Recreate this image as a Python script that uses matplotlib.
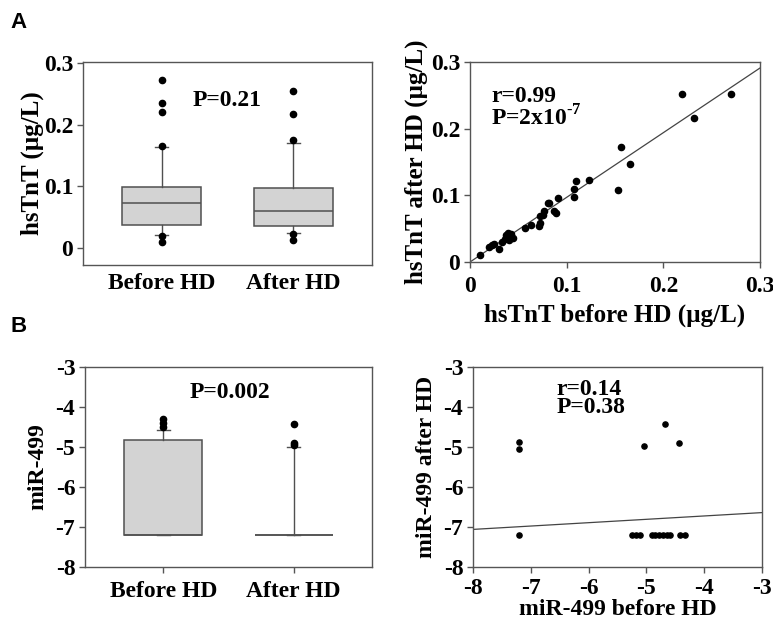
import matplotlib
matplotlib.use("Agg")
import matplotlib.pyplot as plt
import numpy as np

plt.rcParams['font.family'] = ['Liberation Serif', 'DejaVu Serif']
plt.rcParams['font.weight'] = 'bold'
plt.rcParams['mathtext.fontset'] = 'custom'
plt.rcParams['mathtext.rm'] = 'Liberation Serif:bold'
plt.rcParams['mathtext.bf'] = 'Liberation Serif:bold'
plt.rcParams['axes.unicode_minus'] = False

# ---------------- data ----------------
groups = ["Before HD", "After HD"]

# Panel A box plot (hsTnT, ug/L)
hs_med = [0.072, 0.059]
hs_q1 = [0.037, 0.036]
hs_q3 = [0.099, 0.097]
hs_whislo = [0.0205, 0.024]
hs_whishi = [0.164, 0.170]
hs_fliers_before = [0.272, 0.235, 0.221, 0.165, 0.019, 0.0097]
hs_fliers_after = [0.255, 0.218, 0.175, 0.023, 0.012]

# Panel A scatter
hs_before = [0.0105, 0.0195, 0.0226, 0.025, 0.030, 0.033, 0.036, 0.0375, 0.039, 0.041,
             0.0426, 0.044, 0.040, 0.057, 0.0626, 0.071, 0.072, 0.0726, 0.0753, 0.077,
             0.0805, 0.082, 0.0874, 0.089, 0.0908, 0.1075, 0.108, 0.1095, 0.1236, 0.1526,
             0.156, 0.165, 0.2198, 0.232, 0.2705]
hs_after = [0.0105, 0.023, 0.0255, 0.027, 0.0195, 0.030, 0.034, 0.0405, 0.044, 0.038,
            0.042, 0.0355, 0.033, 0.0515, 0.0555, 0.054, 0.058, 0.0695, 0.0705, 0.0765,
            0.088, 0.089, 0.077, 0.074, 0.0955, 0.1095, 0.098, 0.1215, 0.123, 0.1075,
            0.173, 0.147, 0.2525, 0.216, 0.2515]
hs_fit = [0.0, 0.97]  # intercept, slope

# Panel B box plot (miR-499)
mi_med = [-7.2, -7.2]
mi_q1 = [-7.2, -7.2]
mi_q3 = [-4.83, -7.2]
mi_whislo = [-7.2, -7.2]
mi_whishi = [-4.57, -5.0]
mi_fliers_before = [-4.30, -4.40, -4.50]
mi_fliers_after = [-4.42, -4.89, -4.96]

# Panel B scatter
mi_before = [-7.2, -7.2, -7.2, -5.05, -4.68, -4.43,
             -5.244, -5.18, -5.116, -4.91, -4.85, -4.78, -4.71, -4.65, -4.59, -4.42, -4.33]
mi_after = [-4.875, -5.06, -7.2, -4.98, -4.42, -4.9,
            -7.2, -7.2, -7.2, -7.2, -7.2, -7.2, -7.2, -7.2, -7.2, -7.2, -7.2]
mi_fit = [-6.388, 0.084]  # intercept, slope

hs_ticks = [0, 0.1, 0.2, 0.3]
hs_ticklabels = ["0", "0.1", "0.2", "0.3"]
mi_ticks = [-8, -7, -6, -5, -4, -3]
mi_ticklabels = ["-8", "-7", "-6", "-5", "-4", "-3"]

# ---------------- styling ----------------
W, H = 773, 624
fig = plt.figure(figsize=(W / 100, H / 100), dpi=100)

def px_axes(l, t, r, b):
    return fig.add_axes([l / W, 1 - b / H, (r - l) / W, (b - t) / H])

SPINE = '#555555'
BOXFACE = '#d3d3d3'
BOXEDGE = '#505050'
TICKFS = 17
CATFS = 17

def style(ax):
    for s in ax.spines.values():
        s.set_color(SPINE)
        s.set_linewidth(1.0)
    ax.tick_params(direction='out', length=4, width=1, color=SPINE, labelsize=TICKFS, pad=3)
    for lab in ax.get_xticklabels() + ax.get_yticklabels():
        lab.set_fontweight('bold')

def boxes(ax, med, q1, q3, lo, hi, fliers_list):
    stats = []
    for i in range(2):
        stats.append(dict(med=med[i], q1=q1[i], q3=q3[i], whislo=lo[i], whishi=hi[i],
                          fliers=fliers_list[i], label=groups[i]))
    ax.bxp(stats, positions=[1, 2], widths=0.6, patch_artist=True, capwidths=0.1,
           boxprops=dict(facecolor=BOXFACE, edgecolor=BOXEDGE, linewidth=1.1),
           medianprops=dict(color=BOXEDGE, linewidth=1.1),
           whiskerprops=dict(color=BOXEDGE, linewidth=1.0),
           capprops=dict(color=BOXEDGE, linewidth=1.0),
           flierprops=dict(marker='o', markerfacecolor='black', markeredgecolor='black',
                           markersize=4.5, linestyle='none'))
    ax.set_xlim(0.4, 2.6)
    ax.set_xticks([1, 2])
    ax.set_xticklabels(groups, fontsize=CATFS, fontweight='bold')

# ---- Panel A left ----
ax1 = px_axes(83, 62, 372, 265)
boxes(ax1, hs_med, hs_q1, hs_q3, hs_whislo, hs_whishi, [hs_fliers_before, hs_fliers_after])
ax1.set_ylim(-0.028, 0.302)
ax1.set_yticks(hs_ticks)
ax1.set_yticklabels(hs_ticklabels)
ax1.set_ylabel("hsTnT (µg/L)", fontsize=18, fontweight='bold', labelpad=0)
style(ax1)
ax1.tick_params(axis='x', length=0, labelsize=CATFS, pad=6)
ax1.text(1.5, 0.240, "P=0.21", ha='center', va='center', fontsize=17, fontweight='bold')

# ---- Panel A right ----
ax2 = px_axes(470, 62, 760, 262)
ax2.scatter(hs_before, hs_after, s=20, color='black', zorder=3, clip_on=False)
xx = np.array([0, 0.3])
ax2.plot(xx, hs_fit[0] + hs_fit[1] * xx, color='#444444', lw=0.9)
ax2.set_xlim(0, 0.3)
ax2.set_ylim(0, 0.3)
ax2.set_xticks(hs_ticks)
ax2.set_xticklabels(hs_ticklabels)
ax2.set_yticks(hs_ticks)
ax2.set_yticklabels(hs_ticklabels)
ax2.set_xlabel("hsTnT before HD (µg/L)", fontsize=18, fontweight='bold', labelpad=5)
ax2.set_ylabel("hsTnT after HD (µg/L)", fontsize=18, fontweight='bold', labelpad=2)
style(ax2)
ax2.tick_params(axis='x', pad=6)
ax2.text(0.022, 0.248, "r=0.99", ha='left', va='center', fontsize=17, fontweight='bold')
ax2.text(0.022, 0.216, "P=2x10$^{\\text{-7}}$", ha='left', va='center', fontsize=17, fontweight='bold')

# ---- Panel B left ----
ax3 = px_axes(85, 367, 372, 567)
boxes(ax3, mi_med, mi_q1, mi_q3, mi_whislo, mi_whishi, [mi_fliers_before, mi_fliers_after])
ax3.set_ylim(-8, -3)
ax3.set_yticks(mi_ticks)
ax3.set_yticklabels(mi_ticklabels)
ax3.set_ylabel("miR-499", fontsize=17, fontweight='bold', labelpad=5)
style(ax3)
ax3.tick_params(axis='x', labelsize=CATFS, pad=6)
ax3.text(1.51, -3.625, "P=0.002", ha='center', va='center', fontsize=17, fontweight='bold')

# ---- Panel B right ----
ax4 = px_axes(473, 367, 762, 567)
ax4.scatter(mi_before, mi_after, s=14, color='black', zorder=3)
xx = np.array([-8, -3])
ax4.plot(xx, mi_fit[0] + mi_fit[1] * xx, color='#444444', lw=0.9)
ax4.set_xlim(-8, -3)
ax4.set_ylim(-8, -3)
ax4.set_xticks(mi_ticks)
ax4.set_xticklabels(mi_ticklabels)
ax4.set_yticks(mi_ticks)
ax4.set_yticklabels(mi_ticklabels)
ax4.set_xlabel("miR-499 before HD", fontsize=17, fontweight='bold', labelpad=0)
ax4.set_ylabel("miR-499 after HD", fontsize=17, fontweight='bold', labelpad=5)
style(ax4)
ax4.tick_params(axis='x', pad=4)
ax4.text(-6.55, -3.79, "r=0.14\nP=0.38", ha='left', va='center', fontsize=17,
         fontweight='bold', linespacing=0.8)

# panel letters
fig.text(10 / W, 1 - 23 / H, "A", fontsize=16, fontweight='bold',
         family=['Liberation Sans', 'DejaVu Sans'], va='center', ha='left')
fig.text(10 / W, 1 - 326 / H, "B", fontsize=16, fontweight='bold',
         family=['Liberation Sans', 'DejaVu Sans'], va='center', ha='left')

fig.savefig("out.png", dpi=100)
